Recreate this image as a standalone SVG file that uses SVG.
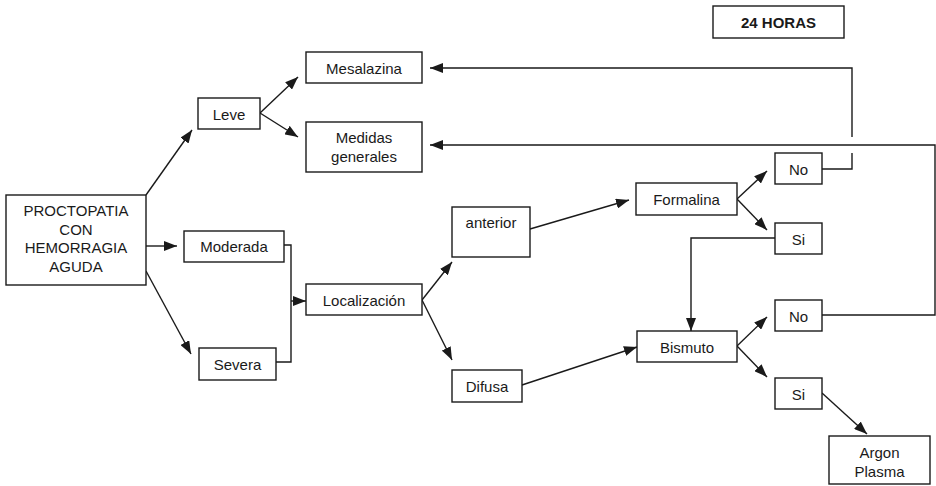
<svg xmlns="http://www.w3.org/2000/svg" width="936" height="486" viewBox="0 0 936 486">
<style>
.box{fill:#fff;stroke:#1a1a1a;stroke-width:1.4}
.t{font-family:"Liberation Sans",Arial,sans-serif;font-size:15px;fill:#1a1a1a;text-anchor:middle;dominant-baseline:central}
.b{font-weight:bold}
.c{fill:none;stroke:#1a1a1a;stroke-width:1.4}
.a{marker-end:url(#ah)}
</style>
<defs>
<marker id="ah" markerUnits="userSpaceOnUse" markerWidth="13" markerHeight="10" refX="13" refY="5" orient="auto">
<path d="M0,0 L13,5 L0,10 z" fill="#1a1a1a"/>
</marker>
</defs>
<rect width="936" height="486" fill="#fff"/>
<g id="connectors">
<path class="c a" d="M146,195 L192,130"/>
<path class="c a" d="M146,246 L177,246"/>
<path class="c a" d="M146,271 L191,354"/>
<path class="c a" d="M260,113 L298,77"/>
<path class="c a" d="M260,113 L298,137"/>
<path class="c" d="M284,245 H291 V362 H276"/>
<path class="c a" d="M291,301 H306"/>
<path class="c a" d="M422,300 L452,262"/>
<path class="c a" d="M422,300 L452,360"/>
<path class="c a" d="M530,229 L629,200"/>
<path class="c a" d="M522,385 L637,347"/>
<path class="c a" d="M737,199 L767,171"/>
<path class="c a" d="M737,199 L767,230"/>
<path class="c a" d="M775,238 H691 V331"/>
<path class="c a" d="M737,346 L767,317"/>
<path class="c a" d="M737,346 L767,377"/>
<path class="c a" d="M822,393 L867,434"/>
<path class="c" d="M822,169 H852 V153"/>
<path class="c a" d="M852,137 V68 H430"/>
<path class="c a" d="M822,315 H935 V145 H430"/>
</g>
<g id="n24"><rect class="box" x="713" y="6" width="131" height="32"/><text class="t b" x="778.5" y="22">24 HORAS</text></g>
<g id="mesalazina"><rect class="box" x="306" y="52" width="116" height="31"/><text class="t" x="364" y="68">Mesalazina</text></g>
<g id="leve"><rect class="box" x="198" y="98" width="62" height="31"/><text class="t" x="229" y="114">Leve</text></g>
<g id="medidas"><rect class="box" x="306" y="122" width="116" height="50"/><text class="t" x="364" y="137">Medidas</text><text class="t" x="364" y="156">generales</text></g>
<g id="proctopatia"><rect class="box" x="6" y="195" width="140" height="90"/><text class="t" x="76" y="210">PROCTOPATIA</text><text class="t" x="76" y="229">CON</text><text class="t" x="76" y="247">HEMORRAGIA</text><text class="t" x="76" y="266">AGUDA</text></g>
<g id="moderada"><rect class="box" x="184" y="231" width="100" height="31"/><text class="t" x="234" y="246">Moderada</text></g>
<g id="severa"><rect class="box" x="199" y="348" width="77" height="32"/><text class="t" x="237.5" y="364">Severa</text></g>
<g id="localizacion"><rect class="box" x="306" y="284" width="116" height="31"/><text class="t" x="364" y="300">Localización</text></g>
<g id="anterior"><rect class="box" x="452" y="207" width="78" height="50"/><text class="t" x="491" y="222">anterior</text></g>
<g id="difusa"><rect class="box" x="452" y="370" width="70" height="32"/><text class="t" x="487" y="386">Difusa</text></g>
<g id="formalina"><rect class="box" x="636" y="183" width="101" height="32"/><text class="t" x="686.5" y="199">Formalina</text></g>
<g id="no1"><rect class="box" x="775" y="153" width="47" height="31"/><text class="t" x="798.5" y="169">No</text></g>
<g id="si1"><rect class="box" x="775" y="223" width="47" height="31"/><text class="t" x="798.5" y="239">Si</text></g>
<g id="bismuto"><rect class="box" x="637" y="331" width="100" height="31"/><text class="t" x="687" y="347">Bismuto</text></g>
<g id="no2"><rect class="box" x="775" y="300" width="47" height="31"/><text class="t" x="798.5" y="316">No</text></g>
<g id="si2"><rect class="box" x="775" y="378" width="47" height="31"/><text class="t" x="798.5" y="394">Si</text></g>
<g id="argon"><rect class="box" x="829" y="436" width="101" height="48"/><text class="t" x="879.5" y="452">Argon</text><text class="t" x="879.5" y="471">Plasma</text></g>
</svg>
